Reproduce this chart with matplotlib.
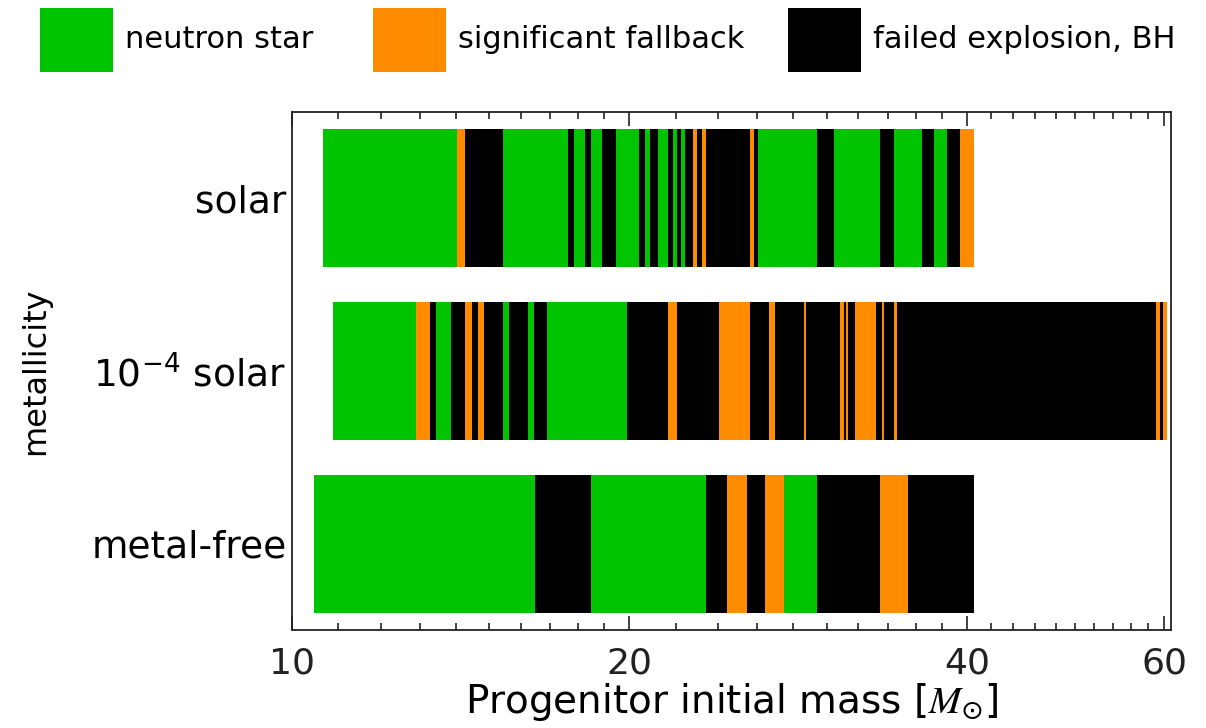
import matplotlib
matplotlib.use('Agg')
import matplotlib.pyplot as plt
from matplotlib.patches import Rectangle
from matplotlib.ticker import FixedLocator, FixedFormatter, NullFormatter

plt.rcParams['font.family'] = ['DejaVu Sans']
plt.rcParams['mathtext.fontset'] = 'stix'
plt.rcParams['mathtext.default'] = 'regular'

# outcome codes: G = neutron star, O = significant fallback, B = failed explosion / BH
rows = ['solar', '10$^{-4}$ solar', 'metal-free']

solar_edges = [10.65, 14.04, 14.28, 15.42, 17.64, 17.84, 18.24, 18.49, 18.89, 19.45,
               20.40, 20.65, 20.86, 21.23, 21.67, 21.86, 22.04, 22.24, 22.42, 22.81,
               23.00, 23.20, 23.41, 25.62, 25.84, 26.07, 29.43, 30.44, 33.48, 34.45,
               36.47, 37.41, 38.37, 39.41, 40.61]
solar_kinds = ['G', 'O', 'B', 'G', 'B', 'G', 'B', 'G', 'B', 'G',
               'B', 'G', 'B', 'G', 'B', 'G', 'B', 'G', 'B', 'O',
               'B', 'O', 'B', 'O', 'B', 'G', 'B', 'G', 'B', 'G',
               'B', 'G', 'B', 'O']

lowz_edges = [10.88, 12.89, 13.27, 13.44, 13.86, 14.28, 14.47, 14.66, 14.85, 15.43,
              15.63, 16.25, 16.45, 16.90, 19.89, 21.67, 22.04, 24.03, 25.62, 26.63,
              27.00, 28.63, 28.77, 30.81, 31.09, 31.18, 31.37, 31.80, 33.16, 33.59,
              33.75, 34.45, 34.65, 59.01, 59.54, 59.83, 60.36]
lowz_kinds = ['G', 'O', 'B', 'G', 'B', 'O', 'B', 'O', 'B', 'G',
              'B', 'G', 'B', 'G', 'B', 'O', 'B', 'O', 'B', 'O',
              'B', 'O', 'B', 'O', 'B', 'O', 'B', 'O', 'B', 'O',
              'B', 'O', 'B', 'O', 'B', 'O']

free_edges = [10.47, 16.47, 18.48, 23.43, 24.44, 25.44, 26.43, 27.46, 29.41, 33.46,
              35.42, 40.61]
free_kinds = ['G', 'B', 'G', 'B', 'O', 'B', 'O', 'G', 'B', 'O', 'B']

legend_labels = ['neutron star', 'significant fallback', 'failed explosion, BH']
colors = {'G': '#00c400', 'O': '#ff8c00', 'B': '#000000'}

major_ticks = [10, 20, 40, 60]
minor_ticks = list(range(11, 20)) + list(range(22, 40, 2)) + list(range(42, 60, 2))

W, H = 1206, 728
fig = plt.figure(figsize=(W / 100, H / 100), dpi=100)
ax = fig.add_axes([292 / W, 1 - 630 / H, (1171 - 292) / W, (630 - 112) / H])

all_edges = [solar_edges, lowz_edges, free_edges]
all_kinds = [solar_kinds, lowz_kinds, free_kinds]
ypos = [2, 1, 0]
for y, edges, kinds in zip(ypos, all_edges, all_kinds):
    lefts = edges[:-1]
    widths = [b - a for a, b in zip(edges[:-1], edges[1:])]
    ax.barh([y] * len(lefts), widths, left=lefts, height=0.8,
            color=[colors[k] for k in kinds], linewidth=0)

ax.set_xscale('log')
ax.set_xlim(10, 60.85)
ax.set_ylim(-0.5, 2.5)
ax.xaxis.set_major_locator(FixedLocator(major_ticks))
ax.xaxis.set_major_formatter(FixedFormatter([str(t) for t in major_ticks]))
ax.xaxis.set_minor_locator(FixedLocator(minor_ticks))
ax.xaxis.set_minor_formatter(NullFormatter())
ax.tick_params(axis='x', which='both', direction='in', top=True, width=1.2,
               labelsize=26, pad=12, colors='#222222')
ax.tick_params(axis='x', which='major', length=10)
ax.tick_params(axis='x', which='minor', length=5)
ax.set_yticks(ypos)
ax.set_yticklabels(rows)
ax.tick_params(axis='y', length=0, labelsize=27, pad=4)
for s in ax.spines.values():
    s.set_linewidth(1.3)
    s.set_color('#222222')

ax.set_xlabel(r'Progenitor initial mass [$\mathit{M}_{\odot}$]', fontsize=28, labelpad=0)
ax.set_ylabel('metallicity', fontsize=23, labelpad=29)

# legend above the plot
patch_x = [40, 373, 788]
for px, key, lab in zip(patch_x, ['G', 'O', 'B'], legend_labels):
    fig.add_artist(Rectangle((px / W, 1 - 72 / H), 73 / W, 64 / H,
                             transform=fig.transFigure, facecolor=colors[key],
                             edgecolor='none'))
    fig.text((px + 85) / W, 1 - 40 / H, lab, fontsize=22, va='center', ha='left')

fig.savefig('out.png', dpi=100)
